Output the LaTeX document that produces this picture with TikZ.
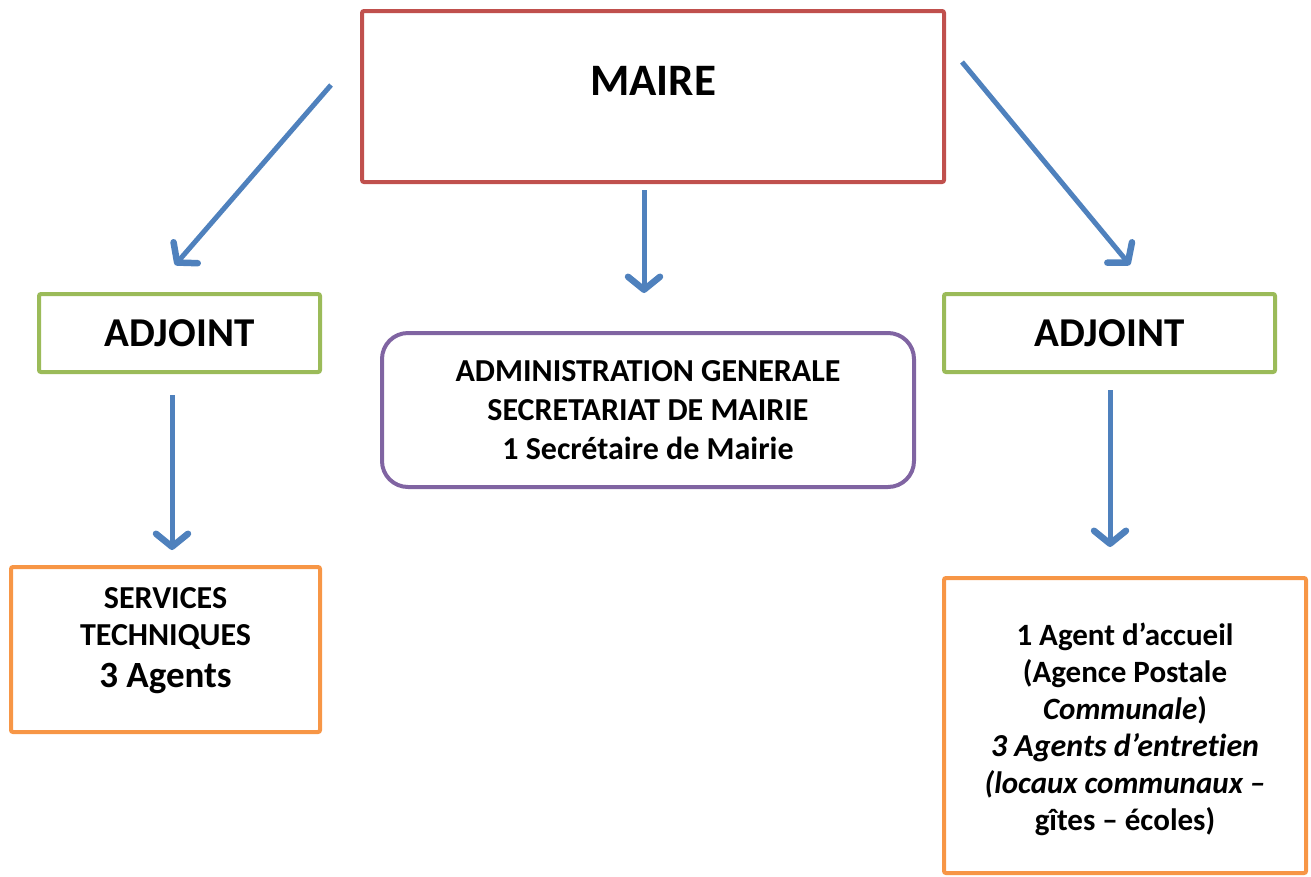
\documentclass[tikz,border=0pt]{standalone}
\usepackage{fontspec}
\setmainfont[Ligatures=NoCommon]{Carlito}
\usetikzlibrary{arrows.meta}

\definecolor{mairered}{HTML}{C0504D}
\definecolor{adjgreen}{HTML}{9BBB59}
\definecolor{adminpurple}{HTML}{8064A2}
\definecolor{agentorange}{HTML}{F79646}
\definecolor{flowblue}{HTML}{4F81BD}

\begin{document}
\begin{tikzpicture}[x=1pt, y=-1pt,
  box/.style={draw, line width=4pt, rounded corners=2pt, align=center, inner sep=0pt},
  boxtext/.style={align=center, inner sep=0pt},
  flow/.style={draw=flowblue, line width=5pt, -{Straight Barb[length=13pt, width=32pt, line width=6.5pt, round]}}]

\useasboundingbox (0,0) rectangle (1311,876);

\draw(653,96.5) node[box, draw=mairered, minimum width=582pt, minimum height=171pt] (maire) {};
\draw([yshift=16pt]maire.center) node[font=\bfseries\fontsize{45}{52}\selectfont] (mairetext) {MAIRE};

\draw(179.5,333) node[box, draw=adjgreen, minimum width=281pt, minimum height=78pt, font=\bfseries\fontsize{41}{48}\selectfont] (adjl) {ADJOINT};
\draw(1109.5,333) node[box, draw=adjgreen, minimum width=331pt, minimum height=78pt, font=\bfseries\fontsize{41}{48}\selectfont] (adjr) {ADJOINT};

\draw(648,410) node[box, draw=adminpurple, rounded corners=26pt, minimum width=532pt, minimum height=154pt, font=\bfseries\fontsize{32}{39}\selectfont] (admin)
  {ADMINISTRATION GENERALE\\ SECRETARIAT DE MAIRIE\\ 1 Secrétaire de Mairie};

\draw(165.5,649.5) node[box, draw=agentorange, minimum width=309pt, minimum height=165pt] (tech) {};
\draw([yshift=9pt]tech.center) node[boxtext, font=\bfseries\fontsize{32}{37}\selectfont] (techtext)
  {SERVICES\\ TECHNIQUES\\[5pt] {\fontsize{37}{44}\selectfont 3 Agents}};

\draw(1125,725.5) node[box, draw=agentorange, minimum width=362pt, minimum height=295pt] (accueil) {};
\draw([yshift=-4pt]accueil.center) node[boxtext, font=\bfseries\fontsize{31}{37}\selectfont] (accueiltext)
  {1 Agent d’accueil\\ (Agence Postale\\ \textit{Communale})\\ {\fontsize{32}{37}\selectfont\textit{3 Agents d’entretien}}\\ \textit{(locaux communaux –}\\ gîtes – écoles)};

\coordinate (ml) at (331,85);
\coordinate (mc) at (644,190);
\coordinate (mr) at (962,62);
\coordinate (al) at (175,265);
\coordinate (ac) at (644,293);
\coordinate (ar) at (1130,265);
\coordinate (tl0) at (172,395);
\coordinate (tl1) at (172,550);
\coordinate (tr0) at (1110,390);
\coordinate (tr1) at (1110,547);

\draw[flow] (ml) -- (al);
\draw[flow] (mc) -- (ac);
\draw[flow] (mr) -- (ar);
\draw[flow] (tl0) -- (tl1);
\draw[flow] (tr0) -- (tr1);

\end{tikzpicture}
\end{document}
